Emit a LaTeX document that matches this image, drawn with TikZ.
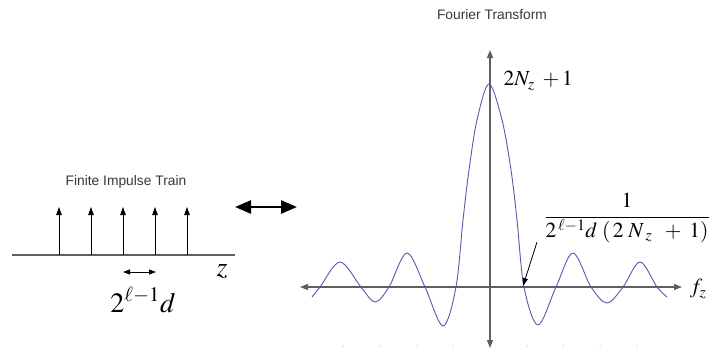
\documentclass[tikz,border=0pt]{standalone}
\usepackage{amsmath,amssymb}
\usepackage{mathptmx}
\usepackage[no-math]{fontspec}
\usepackage{tikz}
\usetikzlibrary{arrows.meta,calc}
\newfontfamily\arialfont{Liberation Sans}
\definecolor{curveblue}{RGB}{88,88,172}
\definecolor{axisgray}{RGB}{95,95,95}
\definecolor{titlegray}{RGB}{55,55,55}

\begin{document}
\begin{tikzpicture}[x=1pt,y=-1pt,
    axis/.style={axisgray,line width=1.1pt,-{Triangle[length=8pt,width=6pt]}},
    spike/.style={black,line width=0.8pt,-{Triangle[length=8pt,width=5.5pt]}},
    title/.style={titlegray,font=\arialfont\fontsize{13.8}{16}\selectfont},
    bigmath/.style={font=\fontsize{28}{32}\selectfont},
    midmath/.style={font=\fontsize{21.5}{25}\selectfont}]
    \useasboundingbox (0,0) rectangle (714,351);
          	\node[title] (lefttitle) at (126,182) {Finite Impulse Train};
          	\node[title] (righttitle) at (492,15) {Fourier Transform};
            \coordinate (bl) at (12,255);
            \coordinate (br) at (235,255);
            \draw[axisgray,line width=1.1pt] (bl) -- (br);
            \foreach \k/\xx in {1/59,2/91,3/123,4/155,5/187}{
              \coordinate (foot\k) at (\xx,255);
              \coordinate (tip\k) at (\xx,207);
              \draw[spike] (foot\k) -- (tip\k);
            }
            \coordinate (gapl) at (123,272);
            \coordinate (gapr) at (156,272);
            \draw[black,line width=0.9pt,{Triangle[length=7pt,width=5pt]}-{Triangle[length=7pt,width=5pt]}] (gapl) -- (gapr);
            \node[bigmath] (zlab) at (222,272) {$z$};
            \node[bigmath] (gaplab) at (143,300) {$2^{\ell-1}d$};
            \coordinate (pairl) at (235,207);
            \coordinate (pairr) at (297,207);
            \draw[black,line width=2.6pt,{Triangle[length=16pt,width=13pt]}-{Triangle[length=16pt,width=13pt]}] (pairl) -- (pairr);
            \coordinate (origin) at (490,287);
            \coordinate (fl) at (300,287);
            \coordinate (fr) at (682,287);
            \coordinate (ft) at (490,50);
            \coordinate (fb) at (490,348);
            \draw[axis] (origin) -- (fr);
            \draw[axis] (origin) -- (fl);
            \draw[axis] (origin) -- (ft);
            \draw[axis] (origin) -- (fb);
            \node[midmath] (fzlab) at (698,289) {$f_z$};
            \draw[curveblue,line width=0.9pt] plot[smooth,tension=0.55] coordinates {
              (312,297) (320,287) (340,262) (361,287) (375,302) (389,287)
              (407,253) (425,287) (443,326) (456,287) (463,220) (469,170)
              (477,120) (489,84) (502,120) (511,170) (517,220) (524,287)
              (538,325) (556,287) (573,253) (591,287) (607,303) (623,287)
              (640,262) (657,287) (667,297)};
            \node[midmath,anchor=west] (peaklab) at (500,81) {$2N_z\;+1$};
            \node[midmath] (ratio) at (627,218) {$\dfrac{1}{2^{\,\ell-1}d\;(\,2\;N_{\;z}\;\;+\;1)}$};
            \coordinate (ptr) at (537,242);
            \coordinate (zeroR) at (523,286);
            \draw[black,line width=0.8pt,-{Triangle[length=8pt,width=5pt]}] (ptr) -- (zeroR);
            \foreach \xx in {343,380,417,453,527,563,600,637}
              \fill[black!12] (\xx,346) circle (1pt);
      \end{tikzpicture}
\end{document}
